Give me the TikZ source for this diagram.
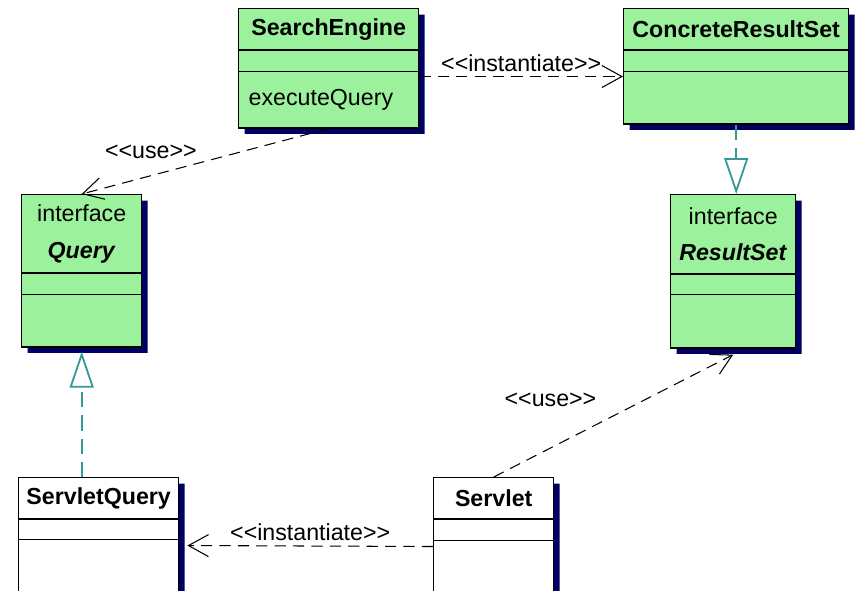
\documentclass[tikz,border=0pt]{standalone}
\usepackage{fontspec}
\setmainfont{Liberation Sans}
\usetikzlibrary{shapes.multipart,shadows,arrows.meta,positioning}
\definecolor{classgreen}{RGB}{156,242,156}
\definecolor{shadownavy}{RGB}{0,0,100}
\definecolor{realizeteal}{RGB}{51,153,153}
\newcommand{\classcell}[3]{\parbox[c][#2][c]{#1}{\centering #3}}
\newcommand{\stereotype}[1]{<\kern0pt<#1>\kern0pt>}

\begin{document}
\begin{tikzpicture}[
    font=\fontsize{16.5}{20}\selectfont,
    umlclass/.style={rectangle split, rectangle split parts=3, draw, line width=1pt, inner sep=0pt, fill=classgreen,
        drop shadow={shadow xshift=0.15cm, shadow yshift=-0.15cm, fill=shadownavy, opacity=1}, anchor=north west},
    plainclass/.style={umlclass, fill=white},
    depend/.style={-{Straight Barb[length=0.5cm, width=0.55cm]}, dash pattern=on 0.28cm off 0.18cm, line width=0.75pt},
    realize/.style={-{Triangle[open, length=0.9cm, width=0.6cm]}, dash pattern=on 0.38cm off 0.2cm, line width=1.3pt, draw=realizeteal}
]
\useasboundingbox (0,0) rectangle (21.4,-14.75);

\node[umlclass] (engine) at (5.95,-0.2) {\classcell{4.5cm}{1cm}{\textbf{SearchEngine}}
    \nodepart{two}\classcell{4.5cm}{0.5cm}{}
    \nodepart{three}\classcell{4.5cm}{1.375cm}{\makebox[4.5cm][l]{\hspace{0.25cm}executeQuery}}};
\node[umlclass] (crs) at (15.575,-0.2) {\classcell{5.625cm}{1cm}{\textbf{ConcreteResultSet}}
    \nodepart{two}\classcell{5.625cm}{0.5cm}{}
    \nodepart{three}\classcell{5.625cm}{1.275cm}{}};
\node[umlclass] (query) at (0.525,-4.85) {\classcell{3cm}{1.925cm}{interface\\[6pt]\textbf{\textit{Query}}}
    \nodepart{two}\classcell{3cm}{0.5cm}{}
    \nodepart{three}\classcell{3cm}{1.275cm}{}};
\node[umlclass] (rs) at (16.75,-4.85) {\classcell{3.125cm}{1.95cm}{interface\\[6pt]\textbf{\textit{ResultSet}}}
    \nodepart{two}\classcell{3.125cm}{0.475cm}{}
    \nodepart{three}\classcell{3.125cm}{1.3cm}{}};
\node[plainclass] (sq) at (0.45,-11.925) {\classcell{4cm}{1cm}{\textbf{ServletQuery}}
    \nodepart{two}\classcell{4cm}{0.475cm}{}
    \nodepart{three}\classcell{4cm}{1.3cm}{}};
\node[plainclass] (servlet) at (10.825,-11.925) {\classcell{3cm}{1cm}{\textbf{Servlet}}
    \nodepart{two}\classcell{3cm}{0.5cm}{}
    \nodepart{three}\classcell{3cm}{1.275cm}{}};

\draw[depend] ([yshift=-0.125cm]engine.two split east) -- node[above] {\stereotype{instantiate}} ([yshift=-0.125cm]crs.two split west);
\draw[depend] (engine.south) -- node[pos=0.72, above=0.3cm] {\stereotype{use}} (query.north);
\draw[realize] (crs.south) -- (crs.south |- rs.north);
\draw[realize] (query.south |- sq.north) -- ([yshift=-0.1cm]query.south);
\draw[depend] (servlet.north) -- node[pos=0.45, above left=0.25cm and 0cm] {\stereotype{use}} ([yshift=-0.15cm]rs.south);
\draw[depend] ([yshift=-0.15cm]servlet.two split west) -- node[above] {\stereotype{instantiate}} ([xshift=0.2cm, yshift=-0.15cm]sq.two split east);
\end{tikzpicture}
\end{document}
